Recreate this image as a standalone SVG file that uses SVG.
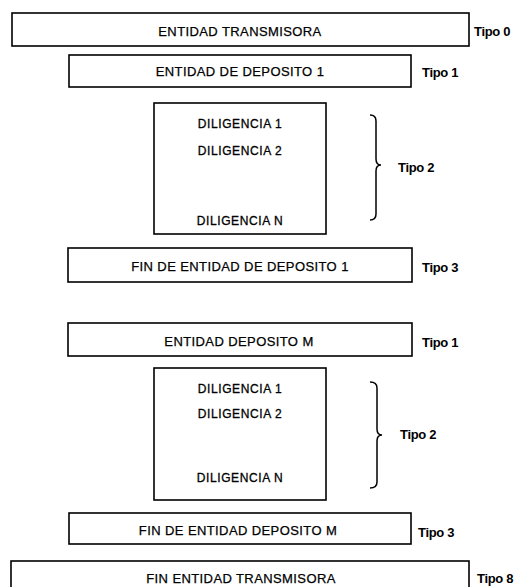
<svg xmlns="http://www.w3.org/2000/svg" width="517" height="587" viewBox="0 0 517 587">
<style>
.box{fill:#fff;stroke:#000;stroke-width:1.6}
.lbl{font-family:"Liberation Sans",Arial,sans-serif;font-size:13px;letter-spacing:0.4px;text-anchor:middle;fill:#000;stroke:#000;stroke-width:0.25}
.dil{font-family:"Liberation Sans",Arial,sans-serif;font-size:12px;letter-spacing:0.6px;text-anchor:middle;fill:#000;stroke:#000;stroke-width:0.3}
.tipo{font-family:"Liberation Sans",Arial,sans-serif;font-size:13px;font-weight:bold;letter-spacing:-0.3px;fill:#000}
.brace{fill:none;stroke:#000;stroke-width:1.5}
</style>
<rect width="517" height="587" fill="#fff"/>
<g id="n-entidad-transmisora">
<rect class="box" x="12" y="13" width="457" height="33"/>
<text class="lbl" x="240" y="36">ENTIDAD TRANSMISORA</text>
<text class="tipo" x="474" y="36">Tipo 0</text>
</g>
<g id="n-entidad-deposito-1">
<rect class="box" x="69" y="55" width="342" height="32"/>
<text class="lbl" x="240" y="76">ENTIDAD DE DEPOSITO 1</text>
<text class="tipo" x="422" y="77">Tipo 1</text>
</g>
<g id="n-diligencias-1">
<rect class="box" x="154" y="103" width="172" height="131"/>
<text class="dil" x="240" y="128">DILIGENCIA 1</text>
<text class="dil" x="240" y="155">DILIGENCIA 2</text>
<text class="dil" x="240" y="225">DILIGENCIA N</text>
<text class="tipo" x="398" y="172">Tipo 2</text>
</g>
<g id="n-fin-entidad-deposito-1">
<rect class="box" x="68" y="248" width="344" height="34"/>
<text class="lbl" x="240" y="271">FIN DE ENTIDAD DE DEPOSITO 1</text>
<text class="tipo" x="422" y="272">Tipo 3</text>
</g>
<g id="n-entidad-deposito-m">
<rect class="box" x="68" y="323" width="344" height="33"/>
<text class="lbl" x="239" y="346">ENTIDAD DEPOSITO M</text>
<text class="tipo" x="422" y="347">Tipo 1</text>
</g>
<g id="n-diligencias-m">
<rect class="box" x="154" y="368" width="172" height="132"/>
<text class="dil" x="240" y="393">DILIGENCIA 1</text>
<text class="dil" x="240" y="418">DILIGENCIA 2</text>
<text class="dil" x="240" y="482">DILIGENCIA N</text>
<text class="tipo" x="400" y="439">Tipo 2</text>
</g>
<g id="n-fin-entidad-deposito-m">
<rect class="box" x="69" y="513" width="342" height="31"/>
<text class="lbl" x="238" y="535">FIN DE ENTIDAD DEPOSITO M</text>
<text class="tipo" x="418" y="537">Tipo 3</text>
</g>
<g id="n-fin-entidad-transmisora">
<rect class="box" x="11" y="561" width="458" height="40"/>
<text class="lbl" x="241" y="583">FIN ENTIDAD TRANSMISORA</text>
<text class="tipo" x="477" y="583">Tipo 8</text>
</g>
<g id="connectors">
<path class="brace" d="M370,115 Q376,115 376,121 L376,159 Q376,165 381,165 Q376,165 376,171 L376,214 Q376,220 370,220"/>
<path class="brace" d="M370,382 Q377,382 377,388 L377,429 Q377,435 382,435 Q377,435 377,441 L377,482 Q377,488 370,488"/>
</g>
</svg>
